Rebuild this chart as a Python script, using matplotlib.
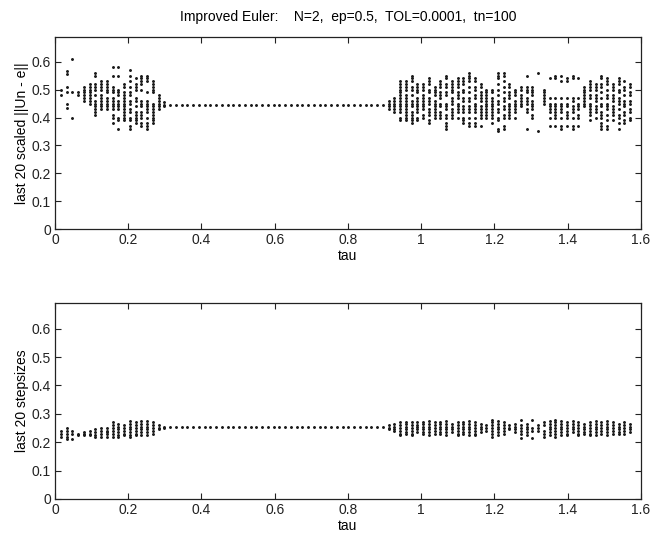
import numpy as np
import matplotlib
matplotlib.use("Agg")
import matplotlib.pyplot as plt

plt.rcParams['font.family'] = ['Liberation Sans', 'DejaVu Sans']

# step index k, tau = k * pi / 200
k_left = np.arange(1, 20)
k_flat = np.arange(20, 58)
k_right = np.arange(58, 101)

# top panel: last 20 scaled errors (hundredths), one list per tau column
top_left = [
    [50, 48], [56.5, 55.5, 51, 49, 45, 43.5], [61, 49, 40], [49, 48],
    [51, 50, 49, 48, 47, 46], [52, 51, 50, 49, 48, 47, 46, 45],
    [56, 55, 52, 51, 50, 48, 46, 45, 44, 43, 42, 41],
    [53, 52, 51, 50, 48, 47, 46, 45, 44, 43],
    [53, 52, 51, 50, 49, 47, 46, 45, 44, 43],
    [58, 55, 51, 50, 49, 47, 46, 45, 44, 43, 41, 40, 38],
    [58, 55, 50, 49, 48, 46, 45, 44, 43, 40, 39, 36],
    [52, 51, 49, 48, 47, 46, 45, 44, 43, 42, 41, 40, 39],
    [57, 55, 53, 51, 49, 48, 46, 45, 43, 42, 40, 39, 37, 36],
    [54, 52, 51, 50, 47, 46, 44, 42, 41, 40, 39, 38],
    [55, 54, 53, 52, 50, 46, 45, 44, 42, 41, 40, 38, 37],
    [55, 54, 53, 49, 46, 45, 44, 43, 42, 40, 38, 37, 36],
    [53, 52, 51, 50, 49, 45, 44, 43, 42, 41, 40, 39, 38],
    [48, 47, 46, 45, 44, 43], [45.5, 44.5, 44],
]
top_plateau = 44.4
top_right = [
    [46, 45, 44, 43], [47, 46, 45, 44, 43, 42],
    [53, 52, 51, 50, 49, 48, 47, 46, 45, 44, 43, 42, 40, 39],
    [53, 52, 51, 50, 48, 47, 46, 45, 44, 43, 42, 41, 40, 39],
    [55, 54, 53, 51, 50, 48, 46, 45, 44, 42, 41, 40, 39, 38],
    [52, 51, 50, 49, 47, 46, 45, 44, 43, 42, 40, 39],
    [52, 51, 50, 48, 47, 46, 45, 44, 43, 41, 40],
    [54, 53, 52, 50, 49, 47, 46, 45, 43, 42, 41, 39, 38],
    [51, 50, 49, 48, 46, 45, 44, 43, 42, 41, 40],
    [53, 52, 51, 49, 48, 47, 45, 44, 42, 41, 40],
    [55, 54, 52, 51, 49, 48, 45, 44, 43, 41, 40, 38, 37, 36],
    [53, 52, 51, 50, 49, 47, 46, 45, 43, 42, 41, 40],
    [54, 53, 52, 51, 49, 48, 47, 45, 44, 43, 42, 40],
    [54, 53, 52, 50, 49, 47, 46, 44, 43, 42, 40, 39, 38],
    [56, 55, 54, 53, 51, 49, 47, 46, 44, 43, 42, 40, 38, 37],
    [54, 53, 51, 50, 48, 47, 45, 44, 43, 42, 40, 38, 37],
    [52, 51, 49, 48, 47, 46, 44, 43, 42, 41, 40, 37],
    [50, 49, 48, 47, 46, 45, 44, 43, 42, 41, 40],
    [50, 49, 47, 46, 45, 44, 43, 42, 41, 40, 38],
    [56, 55, 54, 52, 50, 48, 46, 45, 43, 42, 40, 39, 36, 35],
    [56, 55, 53, 51, 49, 47, 46, 44, 43, 41, 40, 37, 36],
    [52, 51, 49, 48, 47, 45, 44, 43, 42, 41, 40],
    [50, 49, 48, 46, 45, 44, 43, 42, 40],
    [51, 50, 48, 47, 46, 45, 44],
    [55, 51, 50, 49, 47, 46, 45, 43, 42, 36],
    [51, 50, 49, 48, 46, 45, 44, 43, 41, 40],
    [56, 35],
    [50, 49, 48, 47, 46, 45],
    [54, 47, 45, 44, 43, 42, 40, 37],
    [55, 54, 47, 45, 44, 43, 42, 41, 40, 37],
    [55, 53, 47, 45, 44, 43, 42, 40, 37, 36],
    [54, 53, 47, 45, 44, 42, 41, 40, 37],
    [55, 54, 47, 46, 44, 43, 42, 40, 37, 36],
    [54, 47, 45, 44, 43, 41, 40, 37],
    [51, 50, 49, 48, 47, 46, 45, 44],
    [53, 52, 51, 50, 48, 47, 45, 44, 43, 42, 41, 39],
    [52, 51, 50, 48, 47, 46, 44, 43, 42, 40],
    [55, 54, 52, 51, 49, 47, 45, 44, 42, 41, 40, 38, 37, 36],
    [54, 53, 52, 50, 48, 47, 45, 44, 43, 41, 39, 37, 36],
    [52, 51, 50, 48, 47, 46, 44, 43, 42, 41, 39],
    [54, 53, 52, 50, 49, 47, 46, 45, 43, 41, 40, 38, 36],
    [53, 51, 50, 48, 46, 45, 44, 42, 41, 39, 38],
    [52, 51, 49, 48, 46, 45, 43, 42, 40, 39],
]

# bottom panel: last 20 stepsizes (hundredths)
bot_left = [
    [24, 23, 22], [25, 24, 23, 22, 21], [24, 23, 21], [23, 22.5],
    [23.5, 23, 22.5], [24, 23, 22.5], [24.5, 23.5, 22.5, 22],
    [25, 24, 23, 22], [25, 24, 23.5, 23, 22],
    [27, 26, 25, 24, 23, 22], [26.5, 25.5, 24.5, 23.5, 22.5, 22],
    [26, 25, 24, 23, 22.5], [27.5, 26.5, 25.5, 24.5, 23.5, 22.5, 22],
    [27, 26, 25, 24, 23, 22.5], [27.5, 26.5, 25.5, 24.5, 23.5, 22.5],
    [27.5, 26.5, 25.5, 24.5, 23.5, 22.5], [27, 26, 25, 24, 23],
    [26, 25, 24.5], [25.5, 25],
]
bot_plateau = 25.2
bot_right = [
    [26, 25, 24.5], [26.5, 25.5, 24.5, 24],
    [27, 26, 25, 24, 23, 22.5], [27, 26.5, 25.5, 24.5, 23.5, 23],
    [27, 26, 25, 24, 23, 22.5], [27, 26, 25.5, 24.5, 23.5],
    [27, 26.5, 25.5, 24.5, 23.5, 23], [27.5, 26.5, 25.5, 24.5, 23.5, 22.5],
    [27, 26, 25, 24, 23], [27, 26.5, 25.5, 24.5, 23.5, 23],
    [27.5, 26.5, 25.5, 24.5, 23.5, 22.5], [26.5, 25.5, 24.5, 23.5],
    [27, 26, 25, 24, 23, 22.5], [27, 26.5, 25.5, 24.5, 23.5, 23],
    [27.5, 26.5, 25.5, 24.5, 23.5, 22.5], [27, 26, 25, 24, 23, 22.5],
    [26.5, 25.5, 24.5, 23.5], [26, 25, 24],
    [28, 27, 26, 25, 24, 23, 22], [27.5, 26.5, 25.5, 24.5, 23.5, 22.5],
    [27, 26, 25, 24, 23], [26, 25, 24.5],
    [26.5, 25.5, 24.5, 23.5], [28, 26, 25, 24, 23, 21.5],
    [26.5, 25.5, 24.5, 23.5, 22.5], [28, 25, 24, 21.5],
    [26, 25, 24], [27, 26, 24, 23, 22],
    [27.5, 26.5, 25.5, 24.5, 23.5, 22.5], [28, 27, 26, 25, 24, 23, 22],
    [27.5, 26.5, 25.5, 24.5, 23.5, 22.5], [27, 26, 25, 24, 23, 22.5],
    [27.5, 26.5, 25.5, 24.5, 23.5], [27, 26, 25, 24, 23, 22.5],
    [26.5, 25.5, 24.5, 23.5, 23], [27, 26, 25, 24, 23, 22.5],
    [27.5, 26.5, 25.5, 24.5, 23.5, 22.5], [27, 26, 25, 24, 23],
    [27.5, 26.5, 25.5, 24.5, 23.5, 22.5], [27, 26, 25, 24, 23],
    [26.5, 25.5, 24.5, 23.5, 23], [27, 26, 25, 24, 23],
    [26.5, 25.5, 24.5, 23.5],
]

xticks = [0, 0.2, 0.4, 0.6, 0.8, 1, 1.2, 1.4, 1.6]
xticklabels = ['0', '0.2', '0.4', '0.6', '0.8', '1', '1.2', '1.4', '1.6']
yticks = [0, 0.1, 0.2, 0.3, 0.4, 0.5, 0.6]
yticklabels = ['0', '0.1', '0.2', '0.3', '0.4', '0.5', '0.6']


def collect(left, plateau, right):
    xs, ys = [], []
    for k, col in zip(k_left, left):
        xs += [k * np.pi / 200] * len(col)
        ys += col
    for k in k_flat:
        xs.append(k * np.pi / 200)
        ys.append(plateau)
    for k, col in zip(k_right, right):
        xs += [k * np.pi / 200] * len(col)
        ys += col
    return np.array(xs), np.array(ys) / 100


def style(ax, ylabel):
    ax.set_xlim(0, 1.6)
    ax.set_ylim(0, 0.69)
    ax.set_xticks(xticks)
    ax.set_xticklabels(xticklabels)
    ax.set_yticks(yticks)
    ax.set_yticklabels(yticklabels)
    ax.tick_params(direction='in', length=4, width=0.8, top=True, right=True,
                   labelsize=10, pad=3, colors='#222222')
    for s in ax.spines.values():
        s.set_linewidth(0.9)
        s.set_color('#222222')
    ax.set_xlabel('tau', fontsize=10, labelpad=1)
    ax.set_ylabel(ylabel, fontsize=10, labelpad=2)


fig = plt.figure(figsize=(6.51, 5.38), dpi=100)
ax1 = fig.add_axes([0.0845, 0.574, 0.900, 0.358])
ax2 = fig.add_axes([0.0845, 0.0725, 0.900, 0.364])

x1, y1 = collect(top_left, top_plateau, top_right)
ax1.plot(x1, y1, '.', color='#1a1a1a', markersize=2.2)
style(ax1, 'last 20 scaled ||Un - e||')
ax1.set_title('Improved Euler:    N=2,  ep=0.5,  TOL=0.0001,  tn=100',
              fontsize=10, pad=11)

x2, y2 = collect(bot_left, bot_plateau, bot_right)
ax2.plot(x2, y2, '.', color='#1a1a1a', markersize=2.2)
style(ax2, 'last 20 stepsizes')

fig.savefig('out.png', dpi=100)
